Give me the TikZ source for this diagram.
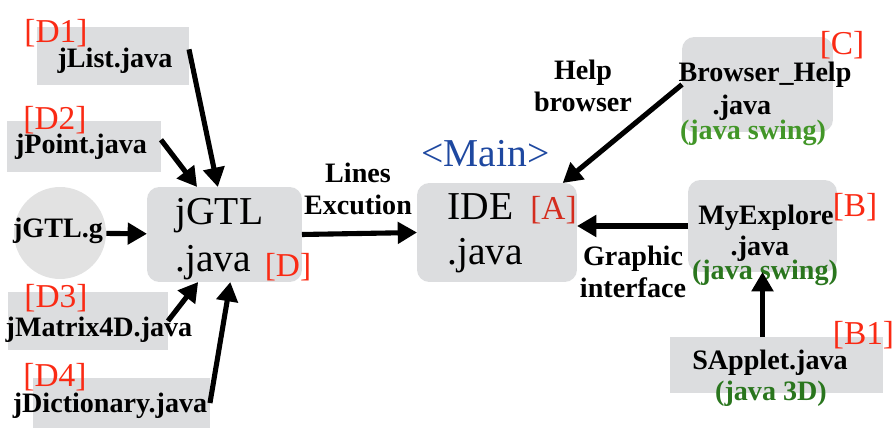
\documentclass[tikz,border=0pt]{standalone}
\usepackage{fontspec}
\setmainfont{Liberation Serif}
\usetikzlibrary{arrows.meta}

\definecolor{boxgray}{RGB}{220,221,223}
\definecolor{ballgray}{RGB}{226,226,226}
\definecolor{tagred}{RGB}{250,42,20}
\definecolor{tagdark}{RGB}{212,44,30}
\definecolor{mainblue}{RGB}{30,72,160}
\definecolor{swinggreen}{RGB}{66,150,40}
\definecolor{darkgreen}{RGB}{42,118,30}

\begin{document}
\begin{tikzpicture}[x=0.02cm, y=-0.02cm,
    box/.style={fill=boxgray, inner sep=0, outer sep=0},
    rbox/.style={box, rounded corners=7pt},
    lbl/.style={font=\fontsize{16}{18.7}\selectfont\bfseries, inner sep=0, anchor=base},
    big/.style={font=\fontsize{22.5}{26.5}\selectfont, inner sep=0, anchor=base west},
    tag/.style={font=\fontsize{19}{22}\selectfont, text=tagred, inner sep=0, anchor=base},
    arr/.style={line width=2.9pt, -{Triangle[length=11pt,width=12pt]}}]

    \useasboundingbox (0,0) rectangle (895,428);

    % left side: the files read by jGTL
    \node[box, minimum width=3.04cm, minimum height=1.16cm] (jlist) at (113,56) {};
    \node[lbl] (jlisttxt) at (115,68) {jList.java};
    \node[tag] (d1) at (56,43) {[D1]};

    \node[box, minimum width=3.08cm, minimum height=1.02cm] (jpoint) at (84,146.5) {};
    \node[lbl] (jpointtxt) at (81,154) {jPoint.java};
    \node[tag] (d2) at (55,130) {[D2]};

    \node[circle, fill=ballgray, inner sep=0, minimum size=1.84cm] (jgtlg) at (60,233) {};
    \node[lbl] (jgtlgtxt) at (58,238) {jGTL.g};

    \node[box, minimum width=3.2cm, minimum height=1.16cm] (jmatrix) at (88,321) {};
    \node[lbl] (jmatrixtxt) at (99,337) {jMatrix4D.java};
    \node[tag] (d3) at (56,308) {[D3]};

    \node[box, minimum width=3.54cm, minimum height=1.0cm] (jdict) at (121.5,403) {};
    \node[lbl] (jdicttxt) at (110,413) {jDictionary.java};
    \node[tag] (d4) at (55,387) {[D4]};

    % jGTL and the IDE
    \node[rbox, minimum width=3.1cm, minimum height=1.9cm] (jgtl) at (224.5,234.5) {};
    \node[big] (jgtltxt) at (175,225) {jGTL};
    \node[big] (jgtljava) at (175,272) {.java};
    \node[tag] (d) at (288,277) {[D]};

    \node[lbl, align=center] (lines) at (358,215) {Lines\\Excution};

    \node[rbox, minimum width=3.2cm, minimum height=1.98cm] (ide) at (497,232.5) {};
    \node[big] (idetxt) at (447,220) {IDE};
    \node[big] (idejava) at (447,265) {.java};
    \node[tag, text=tagdark] (a) at (553.5,220) {[A]};
    \node[big, anchor=base, text=mainblue] (main) at (485.5,167) {<Main>};

    % right side
    \node[lbl, align=center] (help) at (583,112) {Help\\browser};
    \node[rbox, minimum width=3.02cm, minimum height=1.9cm] (browser) at (757.5,84.5) {};
    \node[lbl] (browsertxt) at (765,82) {Browser\_Help};
    \node[lbl] (browserjava) at (742,115) {.java};
    \node[lbl, text=swinggreen] (browserswing) at (753,140) {(java swing)};
    \node[tag] (c) at (842,55) {[C]};

    \node[lbl, align=center] (graphic) at (633,298) {Graphic\\interface};
    \node[rbox, minimum width=2.98cm, minimum height=1.84cm] (myexp) at (762.5,226) {};
    \node[lbl] (myexptxt) at (766,225) {MyExplore};
    \node[lbl] (myexpjava) at (760,256) {.java};
    \node[lbl, text=darkgreen] (myexpswing) at (765,280) {(java swing)};
    \node[tag] (b) at (855,217) {[B]};

    \node[box, minimum width=4.26cm, minimum height=1.12cm] (sapplet) at (776.5,365) {};
    \node[lbl] (sapplettxt) at (770,370) {SApplet.java};
    \node[lbl, text=darkgreen] (sapplet3d) at (771,400) {(java 3D)};
    \node[tag] (b1) at (863.5,345) {[B1]};

    % connectors
    \draw[arr] (jlist.5) -- (jgtl.98);
    \draw[arr] (jpoint.5) -- (jgtl.120);
    \draw[arr] (jgtlg) -- (jgtl);
    \draw[arr] (jmatrix.east) -- (jgtl.-119);
    \draw[arr] (jdict.east) -- (jgtl.-83);
    \draw[arr] (jgtl.east) -- (ide.west);
    \draw[arr] (browser.west) -- (ide.37);
    \draw[arr] (myexp.west) -- (myexp.west -| ide.east);
    \draw[arr] (sapplet.north -| myexp.south) -- (myexp.south);

\end{tikzpicture}
\end{document}
